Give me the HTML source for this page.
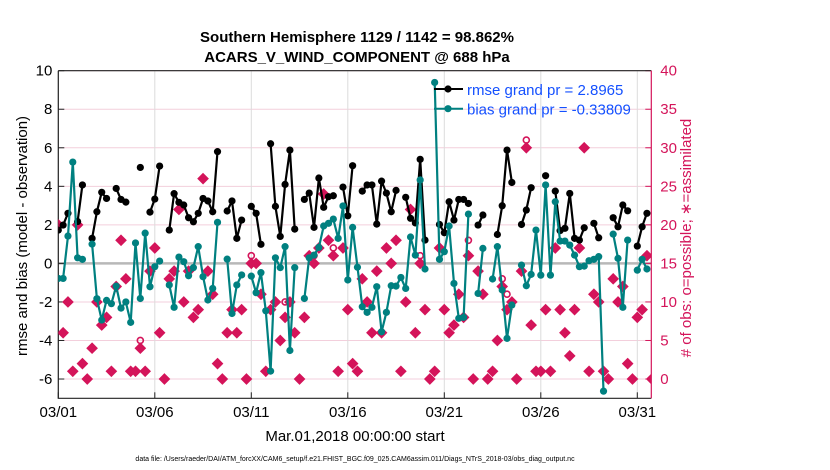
<!DOCTYPE html>
<html><head><meta charset="utf-8">
<style>
body{margin:0;background:#fff;}
svg{display:block;font-family:"Liberation Sans",sans-serif;}
</style></head>
<body>
<svg id="chart" width="830" height="470" viewBox="0 0 830 470" xmlns="http://www.w3.org/2000/svg">
<rect width="830" height="470" fill="#fff"/>
<defs><clipPath id="pa"><rect x="58.3" y="70.7" width="593" height="327.6"/></clipPath></defs>
<text x="357" y="42" text-anchor="middle" font-size="15" font-weight="bold">Southern Hemisphere 1129 / 1142 = 98.862%</text>
<text x="357" y="62" text-anchor="middle" font-size="15" font-weight="bold">ACARS_V_WIND_COMPONENT @ 688 hPa</text>
<g id="grid"></g>
<g id="axes"></g>
<g id="marks" clip-path="url(#pa)"></g>
<g id="legend">
 <line x1="434" y1="89" x2="463" y2="89" stroke="#000" stroke-width="2"/>
 <circle cx="448" cy="89" r="3.6" fill="#000"/>
 <text x="467" y="95" font-size="15" fill="#1450ff">rmse grand pr = 2.8965</text>
 <line x1="434" y1="108.7" x2="463" y2="108.7" stroke="#008080" stroke-width="2"/>
 <circle cx="448" cy="108.7" r="3.6" fill="#008080"/>
 <text x="467" y="114.5" font-size="15" fill="#1450ff">bias grand pr = -0.33809</text>
</g>
<text transform="translate(27,236) rotate(-90)" text-anchor="middle" font-size="15">rmse and bias (model - observation)</text>
<text transform="translate(691,238) rotate(-90)" text-anchor="middle" font-size="15" fill="#d4145a"># of obs: o=possible; ∗=assimilated</text>
<text x="355" y="441" text-anchor="middle" font-size="15">Mar.01,2018 00:00:00 start</text>
<text x="355" y="461" text-anchor="middle" font-size="7">data file: /Users/raeder/DAI/ATM_forcXX/CAM6_setup/f.e21.FHIST_BGC.f09_025.CAM6assim.011/Diags_NTrS_2018-03/obs_diag_output.nc</text>
</svg>
<script>
const xTickLabels=["03/01","03/06","03/11","03/16","03/21","03/26","03/31"];
const xTickDays=[0,5,10,15,20,25,30];
const yLeftTicks=[-6,-4,-2,0,2,4,6,8,10];
const yRightTicks=[0,5,10,15,20,25,30,35,40];
const rmse=[1.73,1.99,2.6,null,2.17,4.07,null,1.3,2.68,3.69,3.37,null,3.89,3.32,3.18,null,null,4.98,null,2.66,3.34,5.05,null,1.73,3.62,3.17,3.03,2.37,2.16,2.6,3.37,3.24,2.68,5.8,null,2.72,3.24,1.3,2.25,null,2.96,2.6,0.99,null,6.21,2.96,1.4,4.1,5.88,1.78,null,3.32,3.65,1.87,4.43,2.91,3.46,3.51,null,3.96,2.47,5.07,null,3.75,4.07,4.07,2.04,4.27,3.65,2.68,3.79,null,3.43,2.34,2.1,5.4,1.21,null,null,2.02,1.59,3.2,2.25,3.32,3.32,3.11,null,1.99,2.51,null,null,1.5,2.99,5.88,4.2,null,2.02,2.77,3.93,null,null,4.55,null,3.75,1.7,1.82,3.63,1.3,1.21,1.85,null,2.08,1.33,null,null,2.37,1.9,3.03,2.73,null,0.9,1.9,2.6,null];
const bias=[-0.78,-0.78,1.42,5.26,0.29,0.21,null,1.0,-1.83,-2.94,-1.92,-2.09,-1.18,-2.32,-2.0,-3.06,1.06,-1.82,1.57,-1.21,-0.17,0.12,null,-1.12,-2.28,0.33,0.09,-0.64,-0.22,0.87,-0.69,-1.9,-1.3,2.13,null,0.22,-2.6,-1.12,-0.6,null,-0.66,-1.52,-0.48,-2.46,-5.59,0.29,-0.22,0.87,-4.52,-0.22,null,-1.82,0.29,0.43,0.83,1.94,2.08,2.3,1.3,2.98,-0.86,1.87,-0.2,-2.25,-2.54,-2.28,-1.21,-3.55,-2.54,-1.16,-1.18,-0.73,-1.3,1.37,0.43,4.33,-0.29,null,9.39,0.21,0.61,1.94,-1.04,-2.85,-2.8,2.56,null,-1.56,0.78,null,-0.81,0.87,-1.38,-3.89,-2.16,null,-0.09,-1.16,-0.57,1.73,-0.61,4.07,-0.61,3.2,1.16,1.16,0.95,0.43,-0.17,-0.14,0.14,0.21,0.35,-6.63,null,1.52,0.26,-2.28,1.21,null,-0.35,0.21,-0.29,null];
const assimilated=[20,6,10,1,20,2,0,4,10,7,8,1,12,18,13,1,1,4,1,14,17,6,0,13,14,22,10,14,8,9,26,14,11,2,0,6,9,6,9,0,15,15,11,1,9,10,5,8,10,6,0,8,16,15,17,24,18,16,1,17,9,2,1,13,10,6,14,6,17,15,18,1,10,22,6,15,9,0,1,17,9,6,7,11,8,16,0,14,11,0,1,5,12,9,10,0,14,30,7,1,1,9,1,17,9,6,3,9,17,30,1,11,10,1,0,13,10,12,2,0,8,9,16,0];
const possible=[20,6,10,1,20,2,0,4,10,7,8,1,12,18,13,1,1,5,1,14,17,6,0,13,14,22,10,14,8,9,26,14,11,2,0,6,9,6,9,0,16,15,11,1,9,10,5,10,10,6,0,8,16,16,17,24,18,17,1,17,9,2,1,13,10,6,14,6,17,15,18,1,10,22,6,16,9,0,1,17,9,6,7,11,8,18,0,14,11,0,1,5,13,11,10,0,14,31,7,1,1,9,1,17,9,6,3,9,17,30,1,11,10,1,0,13,10,12,2,0,8,9,16,0];
const stepDays=0.25;

const NS="http://www.w3.org/2000/svg";
const X0=58.3,X1=651.3,Y0=70.7,Y1=398.3;
const xs=d=>X0+d*19.3;
const yL=v=>Y0+(10-v)*19.27;
const yR=v=>Y0+(40-v)*7.708;
function mk(tag,attrs,parent){const e=document.createElementNS(NS,tag);for(const k in attrs)e.setAttribute(k,attrs[k]);parent.appendChild(e);return e;}
const grid=document.getElementById('grid'),axes=document.getElementById('axes'),marks=document.getElementById('marks');

yRightTicks.forEach(v=>{const y=yR(v);
 const g=mk('line',{x1:X0,x2:X1,y1:y,y2:y,stroke:'#f3cfdc','stroke-width':1},grid);
 
 
 mk('line',{x1:X1-6,x2:X1,y1:y,y2:y,stroke:'#d4145a','stroke-width':1},axes);
 const t=mk('text',{x:X1+9,y:y+5,'font-size':15,fill:'#d4145a'},axes);t.textContent=v;
 
 
});
xTickDays.forEach((d,i)=>{const x=xs(d);
 const g=mk('line',{x1:x,x2:x,y1:Y0,y2:Y1,stroke:'#dcdcdc','stroke-width':1},grid);
 
 
 mk('line',{x1:x,x2:x,y1:Y1,y2:Y1-6,stroke:'#222'},axes);
 const t=mk('text',{x:x,y:417,'text-anchor':'middle','font-size':15},axes);t.textContent=xTickLabels[i];
 
 
});
yLeftTicks.forEach(v=>{const y=yL(v);
 mk('line',{x1:X0,x2:X0+6,y1:y,y2:y,stroke:'#222'},axes);
 const t=mk('text',{x:X0-6,y:y+5,'text-anchor':'end','font-size':15},axes);t.textContent=v;
 
 
});
const zl=mk('line',{x1:X0,x2:X1,y1:yL(0),y2:yL(0),stroke:'#b8b8b8','stroke-width':2.5},grid);


const fr=mk('path',{d:`M${X0},${Y0}H${X1}M${X0},${Y0}V${Y1}H${X1}`,fill:'none',stroke:'#222','stroke-width':1.2},axes);


const rax=mk('line',{x1:X1,x2:X1,y1:Y0,y2:Y1,stroke:'#d4145a','stroke-width':1.2},axes);



// obs counts
possible.forEach((v,i)=>{if(v==null)return;
 const c=mk('circle',{cx:xs(i*stepDays),cy:yR(v),r:3,fill:'none',stroke:'#d4145a','stroke-width':1.6},marks);
 
 
});
assimilated.forEach((v,i)=>{if(v==null)return;
 const x=xs(i*stepDays),y=yR(v);
 const p=mk('path',{d:`M${x},${y-5}L${x+5},${y}L${x},${y+5}L${x-5},${y}Z`,fill:'#d4145a',stroke:'#d4145a','stroke-width':1.2},marks);
 
 
});
function series(arr,color,name){
 let d='',pen=false;
 arr.forEach((v,i)=>{if(v==null){pen=false;return;}
  d+=(pen?'L':'M')+xs(i*stepDays).toFixed(1)+','+yL(v).toFixed(1);pen=true;});
 const l=mk('path',{d:d,fill:'none',stroke:color,'stroke-width':2.2,'stroke-linejoin':'round'},marks);
 
 
 arr.forEach((v,i)=>{if(v==null)return;
  const c=mk('circle',{cx:xs(i*stepDays),cy:yL(v),r:3.6,fill:color},marks);
  
  
 });
}
series(rmse,'#000','rmse');
series(bias,'#008080','bias');
</script>
</body></html>
